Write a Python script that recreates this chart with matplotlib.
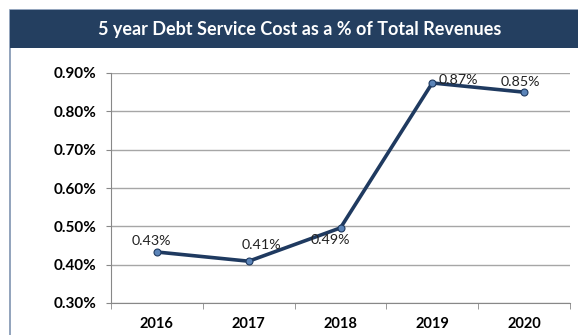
import matplotlib.pyplot as plt
from matplotlib.patches import Rectangle
from matplotlib.ticker import FuncFormatter

plt.rcParams['font.family'] = ['Lato', 'DejaVu Sans']

# data
years = ['2016', '2017', '2018', '2019', '2020']
cost_pct = [0.433, 0.409, 0.496, 0.874, 0.85]
labels = ['0.43%', '0.41%', '0.49%', '0.87%', '0.85%']
# label offsets in points (dx, dy)
offsets = [(-4, 8), (9, 12), (-7, -9), (19, 2), (-3, 7)]

fig = plt.figure(figsize=(5.78, 3.35), dpi=100)

# outer frame and title banner
fig.patches.append(Rectangle((9.5 / 578, -0.1), 1.2, 1 - 10 / 335 + 0.1,
                             transform=fig.transFigure, fill=False,
                             edgecolor='#7F93B0', linewidth=1.2))
fig.patches.append(Rectangle((9.5 / 578, 1 - 48 / 335), 1.2, 38 / 335,
                             transform=fig.transFigure, facecolor='#243F60',
                             edgecolor='none'))
fig.text(300 / 578, 1 - 29 / 335, '5 year Debt Service Cost as a % of Total Revenues',
         color='white', fontsize=13, fontweight='bold', ha='center', va='center')

ax = fig.add_axes([111 / 578, 1 - 303 / 335, 459 / 578, 230 / 335])
x = range(len(years))
ax.plot(x, cost_pct, color='#1F3A60', linewidth=2.6, marker='o', markersize=5,
        markerfacecolor='#5B84B8', markeredgecolor='#1F3A60', markeredgewidth=0.8,
        zorder=3)
for i, (v, lab) in enumerate(zip(cost_pct, labels)):
    ax.annotate(lab, (i, v), xytext=offsets[i], textcoords='offset points',
                ha='center', va='center', fontsize=10.3, color='#222222')

ax.set_xlim(-0.5, len(years) - 0.5)
ax.set_ylim(0.30, 0.90)
ax.set_yticks([0.3, 0.4, 0.5, 0.6, 0.7, 0.8, 0.9])
ax.yaxis.set_major_formatter(FuncFormatter(lambda v, p: '%.2f%%' % v))
ax.set_xticks(list(x))
ax.set_xticklabels(years)
ax.set_xticks([i - 0.5 for i in range(len(years) + 1)], minor=True)
ax.tick_params(axis='x', which='major', length=0, pad=10)
ax.tick_params(axis='x', which='minor', length=4, color='#888888')
ax.tick_params(axis='y', length=3.6, color='#888888', pad=7)
for t in ax.get_xticklabels():
    t.set_fontweight('bold')
    t.set_fontsize(10.5)
for t in ax.get_yticklabels():
    t.set_fontweight('bold')
    t.set_fontsize(11)
ax.grid(axis='y', color='#A6A6A6', linewidth=1)
ax.set_axisbelow(True)
for s in ['top', 'right']:
    ax.spines[s].set_visible(False)
ax.spines['left'].set_color('#888888')
ax.spines['bottom'].set_color('#888888')

fig.savefig('out.png', dpi=100)
